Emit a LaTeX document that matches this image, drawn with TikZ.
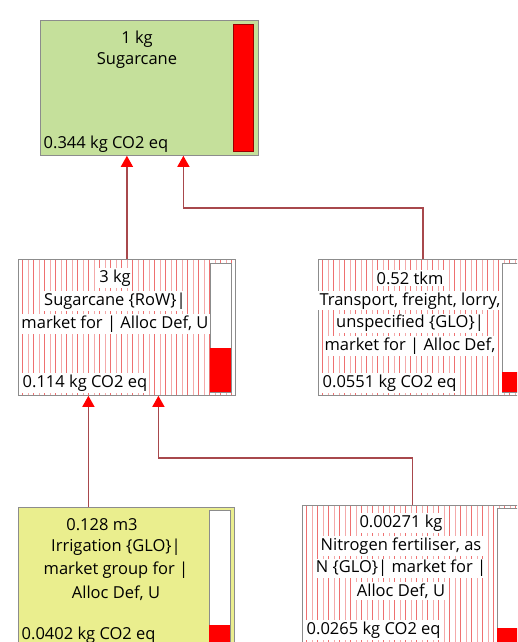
\documentclass[tikz,border=0pt]{standalone}
\usepackage{fontspec}
\setmainfont{Open Sans}
\usetikzlibrary{arrows.meta, calc, positioning}
\definecolor{leafgreen}{HTML}{C5E09B}
\definecolor{paleyellow}{HTML}{EAEE8E}
\definecolor{linkred}{HTML}{A8484C}
\definecolor{hatchred}{HTML}{EE7070}
\definecolor{hatchpale}{HTML}{F4AAAA}
\definecolor{boxgray}{HTML}{8C8C8C}

\begin{document}
\begin{tikzpicture}[x=1pt, y=-1pt, font=\fontsize{16.5}{19}\selectfont,
    proc/.style={draw=boxgray, line width=0.8pt, anchor=north west, inner sep=0pt},
    hatched/.style={proc, fill=white, path picture={
        \foreach \k in {0,...,20}
          \draw[hatchred, line width=0.8pt] ([xshift=11*\k pt+4pt]path picture bounding box.north west) -- ([xshift=11*\k pt+4pt]path picture bounding box.south west);
        \foreach \k in {0,...,20}
          \draw[hatchpale, line width=0.8pt] ([xshift=11*\k pt+9.5pt]path picture bounding box.north west) -- ([xshift=11*\k pt+9.5pt]path picture bounding box.south west);}},
    txt/.style={inner sep=1.5pt},
    wtxt/.style={txt, fill=white},
    bar/.style={draw=boxgray, fill=white, line width=0.8pt},
    impact/.style={fill=red},
    link/.style={draw=linkred, line width=1.3pt, -{Triangle[color=red, width=12pt, length=11pt]}}]
  \path[fill=white, use as bounding box] (0,0) rectangle (517,642);
  \clip (0,0) rectangle (517,642);

  % process boxes
  \node[proc, fill=leafgreen, minimum width=218pt, minimum height=135pt] (top) at (40,20) {};
  \node[hatched, minimum width=217pt, minimum height=136pt] (mid) at (18,259) {};
  \node[hatched, minimum width=209pt, minimum height=136pt] (trans) at (318,259) {};
  \node[proc, fill=paleyellow, minimum width=216pt, minimum height=140pt] (irr) at (18,507) {};
  \node[hatched, minimum width=220pt, minimum height=140pt] (nit) at (302,505) {};

  % impact bars
  \draw[bar, fill=red, draw=red!60!black] (233,24) rectangle (253,151);
  \draw[bar] (210,263) rectangle (231,392);
  \fill[impact] (210.4,348) rectangle (230.6,391.6);
  \draw[bar] (502,263) rectangle (523,392);
  \fill[impact] (502.4,372) rectangle (522.6,391.6);
  \draw[bar] (209,510) rectangle (230,650);
  \fill[impact] (209.4,625) rectangle (229.6,650);
  \draw[bar] (497,508) rectangle (518,650);
  \fill[impact] (497.4,628) rectangle (517.6,650);

  % labels
  \node[txt] (top-1) at (137,39) {1 kg};
  \node[txt] (top-2) at (137,61) {Sugarcane};
  \node[txt, anchor=west] (top-co2) at (42,144) {0.344 kg CO2 eq};

  \foreach \t [count=\i] in {3 kg, Sugarcane \{RoW\}|, {market for | Alloc Def, U}}
    \node[wtxt] (mid-\i) at (115,{278+23*(\i-1)}) {\t};
  \node[wtxt, anchor=west] (mid-co2) at (21,383) {0.114 kg CO2 eq};

  \foreach \t [count=\i] in {0.52 tkm, {Transport, freight, lorry,}, unspecified \{GLO\}|, {market for | Alloc Def,}}
    \node[wtxt] (trans-\i) at (410,{278+22.7*(\i-1)}) {\t};
  \node[wtxt, anchor=west] (trans-co2) at (321,383) {0.0551 kg CO2 eq};

  \node[txt] (irr-1) at (102,525) {0.128 m3};
  \foreach \t [count=\i from 2] in {Irrigation \{GLO\}|, market group for |, {Alloc Def, U}}
    \node[txt] (irr-\i) at (116,{525+22.7*(\i-1)}) {\t};
  \node[txt, anchor=west] (irr-co2) at (20,635) {0.0402 kg CO2 eq};

  \foreach \t [count=\i] in {0.00271 kg, {Nitrogen fertiliser, as}, N \{GLO\}| market for |, {Alloc Def, U}}
    \node[wtxt] (nit-\i) at (401,{523+22.7*(\i-1)}) {\t};
  \node[wtxt, anchor=west] (nit-co2) at (305,630) {0.0265 kg CO2 eq};

  % connectors
  \coordinate (top-in) at ([xshift=34pt]top.south);
  \coordinate (mid-in) at ([xshift=31.5pt]mid.south);
  \coordinate (irr-out) at ([xshift=-38pt]irr.north);
  \draw[link] (mid.north) -- (mid.north |- top.south);
  \draw[link] (trans.north) -- (trans.north |- 0,208) -| (top-in);
  \draw[link] (irr-out) -- (irr-out |- mid.south);
  \draw[link] (nit.north) -- (nit.north |- 0,458) -| (mid-in);
\end{tikzpicture}
\end{document}
